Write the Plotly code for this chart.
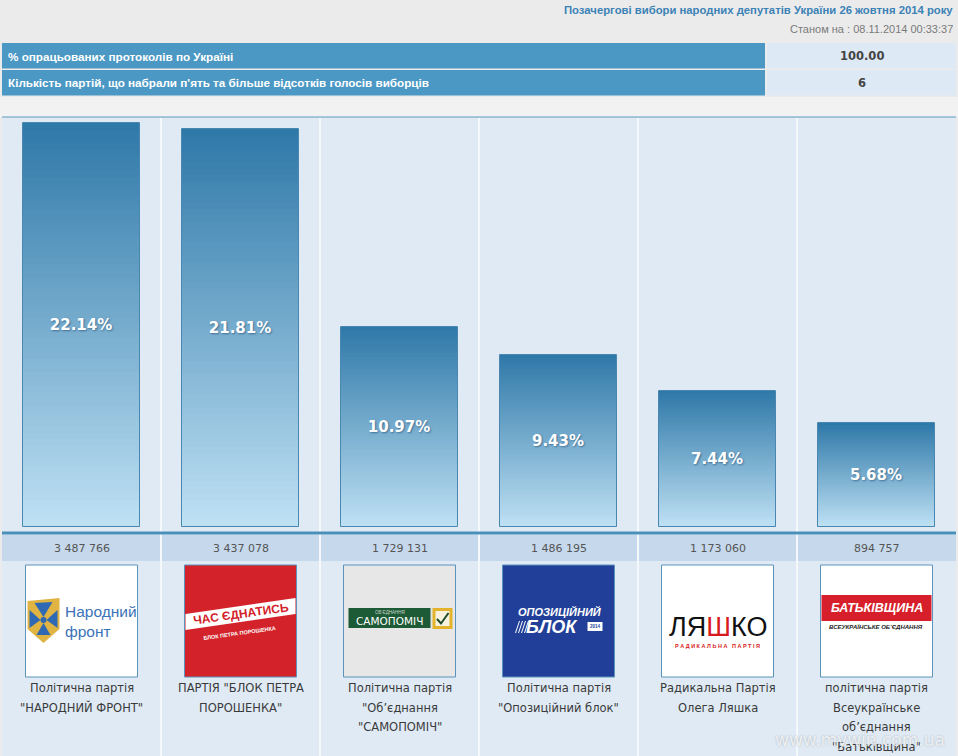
import plotly.graph_objects as go

W, H = 958, 756

# --- data -------------------------------------------------------------
parties = [
    "Політична партія\n\"НАРОДНИЙ ФРОНТ\"",
    "ПАРТІЯ \"БЛОК ПЕТРА\nПОРОШЕНКА\"",
    "Політична партія\n\"Об’єднання\n\"САМОПОМІЧ\"",
    "Політична партія\n\"Опозиційний блок\"",
    "Радикальна Партія\nОлега Ляшка",
    "політична партія\nВсеукраїнське\nоб’єднання\n\"Батьківщина\"",
]
pct = [22.14, 21.81, 10.97, 9.43, 7.44, 5.68]
votes = [3487766, 3437078, 1729131, 1486195, 1173060, 894757]

title = "Позачергові вибори народних депутатів України 26 жовтня 2014 року"
stamp = "Станом на : 08.11.2014 00:33:37"
info_names = [
    "% опрацьованих протоколів по Україні",
    "Кількість партій, що набрали п'ять та більше відсотків голосів виборців",
]
info_values = ["100.00", "6"]

# --- style ------------------------------------------------------------
TOP_C = (46, 120, 168)
BOT_C = (191, 225, 244)
N_STEPS = 60
PX_PER_PCT = 18.25
ZERO_PX = 527
PLOT_TOP, PLOT_BOT = 118, 756
LEFT, RIGHT = 2, 956
VERDANA = "DejaVu Sans"
TAHOMA = "Liberation Sans"

cats = [p.replace("\n", " ") for p in parties]
col_w = (RIGHT - LEFT) / len(cats)


def px(x):
    return x / W


def py(y):
    return 1 - y / H


def mix(t):
    r, g, b = (round(BOT_C[k] + (TOP_C[k] - BOT_C[k]) * t) for k in range(3))
    return f"rgb({r},{g},{b})"


fig = go.Figure()

# gradient bars: nested bars, each shorter one drawn on top of the previous
for k in range(N_STEPS):
    frac = (N_STEPS - k) / N_STEPS
    fig.add_bar(
        x=cats, y=[v * frac for v in pct],
        marker=dict(color=mix((N_STEPS - k - 0.5) / N_STEPS), line_width=0),
        width=0.742, hoverinfo="skip", showlegend=False,
    )

# outline + labels
fig.add_bar(
    x=cats, y=pct, width=0.742,
    marker=dict(color="rgba(0,0,0,0)", line=dict(color="#4a87b0", width=1)),
    text=[f"{v:.2f}%" for v in pct], textposition="inside",
    insidetextanchor="middle", constraintext="none", textangle=0,
    textfont=dict(family=VERDANA, size=15, color="white", weight="bold",
                  shadow="1px 1px 2px rgba(0,40,80,0.45)"),
    hoverinfo="skip", showlegend=False,
)

shapes = []
ann = []


def rect(x0, y0, x1, y1, fill, line=None, lw=1, layer="above"):
    shapes.append(dict(type="rect", xref="paper", yref="paper",
                       x0=px(x0), x1=px(x1), y0=py(y0), y1=py(y1),
                       fillcolor=fill, layer=layer,
                       line=dict(color=line or fill, width=lw if line else 0)))


def poly(pts, fill, line=None, lw=0, closed=True):
    d = "M " + " L ".join(f"{px(x):.5f},{py(y):.5f}" for x, y in pts)
    if closed:
        d += " Z"
    shapes.append(dict(type="path", xref="paper", yref="paper", path=d,
                       fillcolor=fill if closed else None, layer="above",
                       line=dict(color=line or fill, width=lw)))


def text(x, y, s, size, color, family=TAHOMA, anchor="center", angle=0, **kw):
    ann.append(dict(xref="paper", yref="paper", x=px(x), y=py(y), text=s,
                    showarrow=False, xanchor=anchor, yanchor="middle",
                    textangle=angle,
                    font=dict(family=family, size=size, color=color, **kw)))


# page header
rect(0, 97, W, 117, "#f2f2f2", layer="below")
text(955, 10, f"<b>{title}</b>", 11.3, "#3b82b6", anchor="right")
text(955, 29, stamp, 11, "#7a7a7a", anchor="right")

# info table
for j, (name, val) in enumerate(zip(info_names, info_values)):
    y0 = 43 + 27 * j
    rect(LEFT, y0, 765, y0 + 25.5, "#4b98c4", layer="below")
    rect(767, y0, RIGHT, y0 + 25.5, "#dde9f4", layer="below")
    text(6, y0 + 13, f"<b>{name}</b>", 11.7, "white", anchor="left")
    text(862, y0 + 13, f"<b>{val}</b>", 11.5, "#444444", family=VERDANA)

# chart frame
rect(LEFT, 116.5, RIGHT, 117.5, "#5a9bc4")
rect(LEFT, 535, RIGHT, 561, "#c6d9ec", layer="below")
rect(LEFT, 531.5, RIGHT, 534.5, "#4a8fba")

# vote counts and party names, placed on the category axis
for i, c in enumerate(cats):
    ann.append(dict(x=c, xref="x", yref="paper", y=py(548), yanchor="middle",
                    text=f"{votes[i]:,}".replace(",", " "), showarrow=False,
                    font=dict(family=VERDANA, size=11, color="#555555")))
    for j, line in enumerate(parties[i].split("\n")):
        ann.append(dict(x=c, xref="x", yref="paper", y=py(688 + 19.6 * j),
                        yanchor="middle", text=line, showarrow=False,
                        font=dict(family=VERDANA, size=11.5, color="#3a3a3a")))


# party logos (simplified drawings)
def box_origin(i):
    cx = LEFT + col_w * (i + 0.5)
    return cx - 56, 565


logo_fill = ["white", "#d3222a", "#e7e7e7", "#213f98", "white", "white"]
for i, fill in enumerate(logo_fill):
    bx, by = box_origin(i)
    rect(bx, by, bx + 112, by + 112, fill, line="#5b93bb", lw=1)

# 1 - Народний фронт
bx, by = box_origin(0)
R = lambda pts: [(bx + x, by + y) for x, y in pts]
poly(R([(2, 36), (34, 33), (34, 64), (18, 78), (2, 64)]), "#e0b443")
poly(R([(9, 38), (27, 37), (18, 52)]), "#2f69b3")
poly(R([(11, 70), (25, 70), (18, 58)]), "#2f69b3")
poly(R([(4, 45), (4, 63), (15, 55)]), "#2f69b3")
poly(R([(32, 45), (32, 63), (21, 55)]), "#2f69b3")
shapes.append(dict(type="circle", xref="paper", yref="paper",
                   x0=px(bx + 15), x1=px(bx + 21), y0=py(by + 52), y1=py(by + 58),
                   fillcolor="#2f69b3", line_width=0, layer="above"))
text(bx + 37, by + 46, "Народний", 15.5, "#3c72b8", anchor="left")
text(bx + 37, by + 66, "фронт", 15.5, "#3c72b8", anchor="left")

# 2 - БПП
bx, by = box_origin(1)
R = lambda pts: [(bx + x, by + y) for x, y in pts]
poly(R([(1, 49), (111, 33), (111, 49), (1, 65)]), "white")
text(bx + 56, by + 49, "<b>ЧАС ЄДНАТИСЬ</b>", 12, "#d3222a", angle=-8)
text(bx + 55, by + 68, "<b>БЛОК ПЕТРА ПОРОШЕНКА</b>", 5.5, "white", angle=-8)

# 3 - Самопоміч
bx, by = box_origin(2)
R = lambda pts: [(bx + x, by + y) for x, y in pts]
rect(bx + 5, by + 43, bx + 87, by + 63, "#1d5a36")
text(bx + 46, by + 47.5, "ОБ’ЄДНАННЯ", 4.5, "#c9d9cc")
text(bx + 46, by + 56, "САМОПОМІЧ", 10.5, "white", family=VERDANA)
rect(bx + 90.5, by + 44.5, bx + 107.5, by + 62.5, "#f6f2de", line="#e2b32b", lw=3)
poly(R([(93.5, 54), (97.5, 58.5), (105, 48)]), None, line="#1d4a2a", lw=2, closed=False)

# 4 - Опозиційний блок
bx, by = box_origin(3)
text(bx + 57, by + 47, "<b><i>ОПОЗИЦІЙНИЙ</i></b>", 11, "white")
text(bx + 49, by + 62, "<b><i>БЛОК</i></b>", 18, "white")
for s in range(4):
    poly([(bx + 13 + 3 * s, by + 68), (bx + 17 + 3 * s, by + 56)],
         None, line="white", lw=1, closed=False)
rect(bx + 85, by + 57, bx + 100, by + 66, "white")
text(bx + 92.5, by + 61.5, "<b>2014</b>", 4.5, "#213f98")

# 5 - Ляшко
bx, by = box_origin(4)
text(bx + 56, by + 62, "ЛЯ<span style='color:#d71920'>Ш</span>КО", 27, "#111111")
text(bx + 56, by + 81, "<b>Р А Д И К А Л Ь Н А   П А Р Т І Я</b>", 5.5, "#d71920")

# 6 - Батьківщина
bx, by = box_origin(5)
rect(bx + 1, by + 30, bx + 111, by + 56, "#d71f2b")
text(bx + 56, by + 43, "<b><i>БАТЬКІВЩИНА</i></b>", 12.5, "white")
text(bx + 55, by + 62, "<b><i>ВСЕУКРАЇНСЬКЕ ОБ’ЄДНАННЯ</i></b>", 6, "#222222")

# watermark
text(860, 740, "www.mywin.com.ua", 17, "rgba(255,255,255,0.75)", family=VERDANA,
     shadow="0px 0px 2px rgba(0,0,0,0.35)")

fig.update_layout(
    width=W, height=H,
    margin=dict(l=0, r=0, t=0, b=0),
    paper_bgcolor="#ebebeb",
    plot_bgcolor="#dfeaf5",
    barmode="overlay",
    bargap=0,
    showlegend=False,
    shapes=shapes,
    annotations=ann,
    xaxis=dict(
        type="category", categoryorder="array", categoryarray=cats,
        domain=[px(LEFT), px(RIGHT)], range=[-0.5, len(cats) - 0.5],
        tickson="boundaries", showgrid=True, gridcolor="#f6f9fc", gridwidth=2,
        showticklabels=False, ticks="", zeroline=False, showline=False,
        fixedrange=True,
    ),
    yaxis=dict(
        domain=[py(PLOT_BOT), py(PLOT_TOP)],
        range=[-(PLOT_BOT - ZERO_PX) / PX_PER_PCT, (ZERO_PX - PLOT_TOP) / PX_PER_PCT],
        showgrid=False, showticklabels=False, zeroline=False, ticks="",
        fixedrange=True,
    ),
)

# the page body has a default 8px margin; drop it so the figure fills the window
fig.write_html("out.html", config={"displayModeBar": False},
               post_script="document.body.style.margin='0';"
                           "document.body.style.overflow='hidden';")
